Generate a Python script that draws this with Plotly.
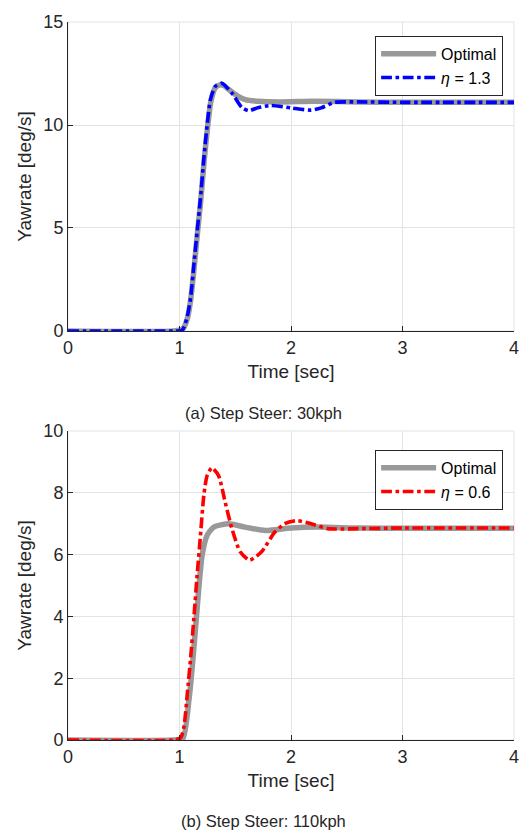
import plotly.graph_objects as go

# ---- data ----
t_opt_a = [0, 0.95, 1.03, 1.07, 1.10, 1.13, 1.16, 1.19, 1.22, 1.25, 1.28, 1.32, 1.36, 1.40, 1.47, 1.53, 1.59, 1.71, 1.9, 2.2, 2.6, 3.0, 4.0]
y_opt_a = [0, 0, 0.1, 0.6, 1.5, 3.0, 4.7, 6.3, 8.2, 9.8, 11.1, 11.8, 11.95, 11.9, 11.6, 11.38, 11.23, 11.15, 11.12, 11.15, 11.12, 11.1, 11.1]

t_eta_a = [0, 0.95, 1.02, 1.04, 1.07, 1.10, 1.129, 1.158, 1.188, 1.218, 1.247, 1.277, 1.32, 1.38, 1.47, 1.56, 1.62, 1.71, 1.82, 2.0, 2.18, 2.27, 2.39, 2.6, 3.0, 4.0]
y_eta_a = [0, 0, 0.02, 0.18, 0.7, 1.62, 3.22, 4.82, 6.43, 8.35, 9.95, 11.23, 11.87, 12.03, 11.55, 10.85, 10.7, 10.85, 10.95, 10.83, 10.72, 10.83, 11.1, 11.12, 11.1, 11.1]

t_opt_b = [0, 0.95, 1.03, 1.084, 1.114, 1.144, 1.173, 1.203, 1.247, 1.307, 1.44, 1.588, 1.77, 2.0, 2.24, 2.6, 3.0, 4.0]
y_opt_b = [0, 0, 0.05, 1.28, 2.35, 3.63, 4.91, 5.98, 6.62, 6.89, 7.0, 6.89, 6.78, 6.86, 6.89, 6.86, 6.85, 6.85]

t_eta_b = [0, 0.95, 1.01, 1.04, 1.07, 1.10, 1.129, 1.158, 1.188, 1.218, 1.247, 1.29, 1.351, 1.41, 1.47, 1.544, 1.63, 1.736, 1.855, 1.944, 2.05, 2.18, 2.33, 2.6, 3.0, 4.0]
y_eta_b = [0, 0, 0.07, 0.43, 1.5, 2.67, 3.95, 5.34, 6.62, 7.91, 8.55, 8.81, 8.55, 7.69, 6.84, 6.09, 5.82, 6.09, 6.73, 7.0, 7.1, 7.0, 6.84, 6.84, 6.86, 6.86]

x_ticks = [0, 1, 2, 3, 4]
y_ticks_a = [0, 5, 10, 15]
y_ticks_b = [0, 2, 4, 6, 8, 10]

FONT = "Liberation Sans, Arial, sans-serif"
TXT = "#262626"
GRID = "#e3e3e3"
GREY = "#999999"

fig = go.Figure()

fig.add_trace(go.Scatter(x=t_opt_a, y=y_opt_a, mode="lines", name="Optimal",
                         line=dict(color=GREY, width=5.5, shape="spline", smoothing=0.6),
                         xaxis="x", yaxis="y", legend="legend"))
fig.add_trace(go.Scatter(x=t_eta_a, y=y_eta_a, mode="lines", name="<i>η</i> = 1.3",
                         line=dict(color="#0000ff", width=3.6, dash="dashdot", shape="spline", smoothing=0.6),
                         xaxis="x", yaxis="y", legend="legend"))
fig.add_trace(go.Scatter(x=t_opt_b, y=y_opt_b, mode="lines", name="Optimal",
                         line=dict(color=GREY, width=5.5, shape="spline", smoothing=0.6),
                         xaxis="x2", yaxis="y2", legend="legend2"))
fig.add_trace(go.Scatter(x=t_eta_b, y=y_eta_b, mode="lines", name="<i>η</i> = 0.6",
                         line=dict(color="#ff0000", width=3.6, dash="dashdot", shape="spline", smoothing=0.6),
                         xaxis="x2", yaxis="y2", legend="legend2"))

top_dom = [(740 - 327) / 725, 1.0]
bot_dom = [0.0, (740 - 428) / 725]

def xax(anchor, title):
    return dict(domain=[0, 1], range=[0, 4], tickvals=x_ticks, anchor=anchor,
                showgrid=True, gridcolor=GRID, gridwidth=1, zeroline=False,
                showline=True, linecolor=TXT, linewidth=1, ticks="inside", ticklen=5,
                tickcolor=TXT, tickfont=dict(size=18, color=TXT, family=FONT),
                title=dict(text=title, font=dict(size=19, color=TXT, family=FONT), standoff=8))

def yax(anchor, dom, rng, tv):
    return dict(domain=dom, range=rng, tickvals=tv, anchor=anchor,
                showgrid=True, gridcolor=GRID, gridwidth=1, zeroline=False,
                showline=True, linecolor=TXT, linewidth=1, ticks="inside", ticklen=5,
                tickcolor=TXT, tickfont=dict(size=18, color=TXT, family=FONT),
                title=dict(text="Yawrate [deg/s]", font=dict(size=19, color=TXT, family=FONT), standoff=6))

fig.update_layout(
    width=531, height=834,
    margin=dict(l=68, r=12, t=15, b=94),
    paper_bgcolor="white", plot_bgcolor="white",
    font=dict(family=FONT, color=TXT),
    xaxis=xax("y", "Time [sec]"),
    yaxis=yax("x", top_dom, [0, 15], y_ticks_a),
    xaxis2=xax("y2", "Time [sec]"),
    yaxis2=yax("x2", bot_dom, [0, 10], y_ticks_b),
    legend=dict(x=(508 - 68) / 451, y=(740 - 29) / 725, xanchor="right", yanchor="top",
                bordercolor=TXT, borderwidth=1, bgcolor="white",
                font=dict(size=16, color="black", family=FONT), itemwidth=55,
                tracegroupgap=0),
    legend2=dict(x=(508 - 68) / 451, y=(740 - 447) / 725, xanchor="right", yanchor="top",
                 bordercolor=TXT, borderwidth=1, bgcolor="white",
                 font=dict(size=16, color="black", family=FONT), itemwidth=55,
                 tracegroupgap=0),
    showlegend=True,
)

# light box around each axes area (top/right edges)
for xr, yr in [("x domain", "y domain"), ("x2 domain", "y2 domain")]:
    fig.add_shape(type="rect", xref=xr, yref=yr, x0=0, x1=1, y0=0, y1=1,
                  line=dict(color=GRID, width=1), layer="below")

fig.add_annotation(text="(a) Step Steer: 30kph", xref="paper", yref="paper",
                   x=(265.5 - 68) / 451, y=(740 - 410) / 725, showarrow=False,
                   font=dict(size=16.5, color=TXT, family=FONT), xanchor="center", yanchor="middle")
fig.add_annotation(text="(b) Step Steer: 110kph", xref="paper", yref="paper",
                   x=(265.5 - 68) / 451, y=(740 - 822) / 725, showarrow=False,
                   font=dict(size=16.5, color=TXT, family=FONT), xanchor="center", yanchor="middle")

fig.write_html("out.html")
